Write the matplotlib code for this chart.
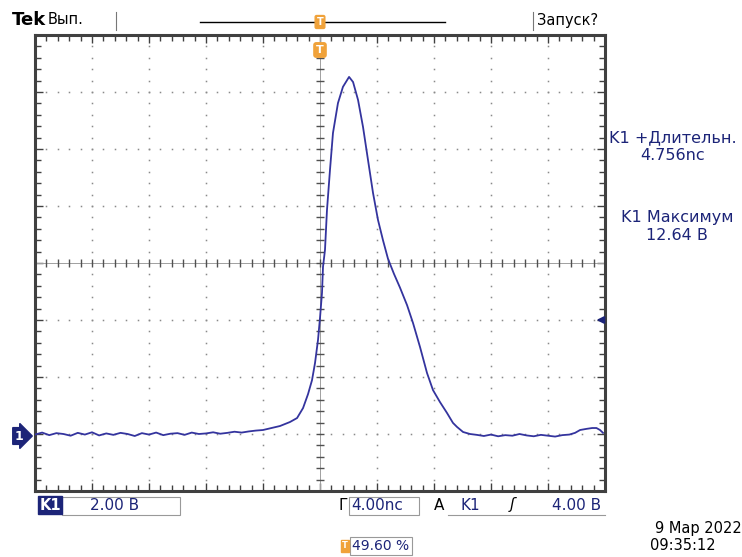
import numpy as np
import matplotlib.pyplot as plt
from matplotlib.patches import Rectangle

plt.rcParams['font.family'] = ['DejaVu Sans']

time_ns = [-20.0, -19.5, -19.0, -18.5, -18.0, -17.5, -17.0, -16.5, -16.0, -15.5,
           -15.0, -14.5, -14.0, -13.5, -13.0, -12.5, -12.0, -11.5, -11.0, -10.5,
           -10.0, -9.5, -9.0, -8.5, -8.0, -7.5, -7.0, -6.5, -6.0, -5.5,
           -5.0, -4.5, -4.0, -2.81, -2.11, -1.61, -1.19, -0.84, -0.56, -0.35,
           -0.14, 0.0, 0.14, 0.21, 0.35, 0.49, 0.70, 0.91, 1.26, 1.61,
           2.04, 2.32, 2.67, 3.02, 3.37, 3.72, 4.07, 4.42, 4.77, 5.19,
           5.61, 6.11, 6.53, 7.02, 7.51, 7.93, 8.42, 8.91, 9.33, 9.61,
           10.04, 10.53, 11.0, 11.5, 12.0, 12.5, 13.0, 13.5, 14.0, 14.5,
           15.0, 15.5, 16.0, 16.5, 17.0, 17.5, 17.9, 18.25, 18.7, 19.1,
           19.4, 19.65, 19.86]
volts = [-0.02, 0.05, -0.04, 0.03, 0.00, -0.06, 0.04, -0.02, 0.06, -0.05,
         0.02, -0.03, 0.04, 0.00, -0.07, 0.03, -0.02, 0.05, -0.04, 0.01,
         0.03, -0.03, 0.05, 0.00, 0.02, 0.06, 0.01, 0.04, 0.08, 0.05,
         0.09, 0.12, 0.14, 0.28, 0.42, 0.56, 0.91, 1.40, 1.89, 2.49,
         3.30, 4.07, 4.95, 5.86, 6.46, 7.86, 9.26, 10.56, 11.61, 12.18,
         12.53, 12.35, 11.72, 10.77, 9.61, 8.46, 7.51, 6.80, 6.15, 5.62,
         5.14, 4.52, 3.89, 3.05, 2.14, 1.54, 1.12, 0.74, 0.39, 0.25,
         0.07, 0.00, -0.03, -0.07, -0.02, -0.08, -0.04, -0.06, 0.00, -0.05,
         -0.08, -0.03, -0.06, -0.09, -0.04, -0.02, 0.04, 0.14, 0.18, 0.21,
         0.21, 0.14, 0.04]

volts_per_div = 2.0
ns_per_div = 4.0
ground_div = -3        # положение нуля канала от центра экрана, делений
trig_level = 4.00
trig_pos = 49.60
meas_width = '4.756nс'
meas_max = '12.64 В'

W, H = 742, 557
navy = '#1c2478'
trace_col = '#34349e'
orange = '#f0a23a'


def px(x, y):
    return x / W, 1 - y / H


fig = plt.figure(figsize=(W / 100, H / 100), dpi=100)
fig.patch.set_facecolor('white')
ax = fig.add_axes([35 / W, 66 / H, 570 / W, 456 / H])

y0 = -(4 + ground_div) * volts_per_div
y1 = y0 + 8 * volts_per_div
ax.set_xlim(-5 * ns_per_div, 5 * ns_per_div)
ax.set_ylim(y0, y1)
yc = (y0 + y1) / 2

# сетка экрана: точки через 0.2 деления
xdots = np.arange(-20, 20.01, ns_per_div / 5)
ydots = np.arange(y0, y1 + 0.01, volts_per_div / 5)
for gx in np.arange(-16, 17, ns_per_div):
    if abs(gx) > 0.01:
        ax.plot([gx] * len(ydots), ydots, ls='none', marker='s', ms=1.1,
                color='#8a8a8a', mew=0)
for gy in np.arange(y0 + volts_per_div, y1, volts_per_div):
    if abs(gy - yc) > 0.01:
        ax.plot(xdots, [gy] * len(xdots), ls='none', marker='s', ms=1.1,
                color='#8a8a8a', mew=0)

# центральный крест с рисками
ax.axhline(yc, color='#a0a0a0', lw=0.7)
ax.axvline(0, color='#a0a0a0', lw=0.7)
ax.plot(xdots, [yc] * len(xdots), ls='none', marker='|', ms=6, color='#505050', mew=1)
ax.plot([0] * len(ydots), ydots, ls='none', marker='_', ms=6, color='#505050', mew=1)

ax.set_xticks(np.arange(-20, 20.1, ns_per_div))
ax.set_xticks(xdots, minor=True)
ax.set_yticks(np.arange(y0, y1 + 0.1, volts_per_div))
ax.set_yticks(ydots, minor=True)
ax.tick_params(which='both', direction='in', top=True, right=True,
               labelbottom=False, labelleft=False, color='#404040', width=1)
ax.tick_params(which='major', length=6)
ax.tick_params(which='minor', length=4)
for s in ax.spines.values():
    s.set_linewidth(2.2)
    s.set_color('#404040')

ax.plot(time_ns, volts, color=trace_col, lw=1.3, zorder=5)

# верхняя строка
fig.text(*px(12, 20), 'Tek', fontsize=13, fontweight='bold', va='center', ha='left')
fig.text(*px(48, 20), 'Вып.', fontsize=10.5, va='center', ha='left')
fig.add_artist(plt.Line2D([116 / W, 116 / W], [1 - 12 / H, 1 - 30 / H], color='#777', lw=0.8))
fig.add_artist(plt.Line2D([200 / W, 445 / W], [1 - 22 / H, 1 - 22 / H], color='black', lw=1))
fig.add_artist(plt.Line2D([533 / W, 533 / W], [1 - 12 / H, 1 - 30 / H], color='#777', lw=0.8))
fig.text(*px(537, 20), 'Запуск?', fontsize=10.5, va='center', ha='left')
fig.text(*px(320, 22), 'T', fontsize=7, color='white', fontweight='bold', ha='center', va='center',
         bbox=dict(boxstyle='round,pad=0.15', fc=orange, ec=orange))
fig.text(*px(320, 50), 'T', fontsize=8, color='white', fontweight='bold', ha='center', va='center',
         bbox=dict(boxstyle='round,pad=0.2', fc=orange, ec=orange))

# маркеры земли и уровня запуска
fig.text(*px(19, 436), '1', fontsize=9, color='white', fontweight='bold', ha='center', va='center',
         bbox=dict(boxstyle='rarrow,pad=0.15', fc=navy, ec=navy))
ax.annotate('', xy=(19.2, trig_level), xytext=(20.0, trig_level),
            arrowprops=dict(arrowstyle='-|>', color=navy, lw=1.5, mutation_scale=10),
            annotation_clip=False)

# измерения справа
fig.text(*px(673, 138), 'K1 +Длительн.', fontsize=11.5, color=navy, ha='center', va='center')
fig.text(*px(673, 156), meas_width, fontsize=11.5, color=navy, ha='center', va='center')
fig.text(*px(677, 218), 'K1 Максимум', fontsize=11.5, color=navy, ha='center', va='center')
fig.text(*px(677, 236), meas_max, fontsize=11.5, color=navy, ha='center', va='center')

# нижняя строка
fig.text(*px(50, 505), 'K1', fontsize=10.5, color='white', fontweight='bold', ha='center', va='center',
         bbox=dict(boxstyle='square,pad=0.1', fc=navy, ec=navy))
fig.add_artist(Rectangle((62 / W, 1 - 515 / H), 118 / W, 18 / H, fill=False, ec='#999', lw=0.8))
fig.text(*px(90, 505), f'{volts_per_div:.2f} В', fontsize=11, color=navy, ha='left', va='center')
fig.text(*px(339, 505), 'Г', fontsize=11, color='black', ha='left', va='center')
fig.add_artist(Rectangle((349 / W, 1 - 515 / H), 70 / W, 18 / H, fill=False, ec='#999', lw=0.8))
fig.text(*px(351, 505), f'{ns_per_div:.2f}nс', fontsize=11, color=navy, ha='left', va='center')
fig.text(*px(434, 505), 'A', fontsize=11, color='black', ha='left', va='center')
fig.add_artist(plt.Line2D([448 / W, 605 / W], [1 - 515 / H, 1 - 515 / H], color='#999', lw=0.8))
fig.text(*px(460, 505), 'K1', fontsize=11, color=navy, ha='left', va='center')
fig.text(*px(512, 505), 'ʃ', fontsize=11, color='black', ha='center', va='center', fontstyle='italic')
fig.text(*px(601, 505), f'{trig_level:.2f} В', fontsize=11, color=navy, ha='right', va='center')

fig.text(*px(345, 546), 'T', fontsize=6, color='white', fontweight='bold', ha='center', va='center',
         bbox=dict(boxstyle='square,pad=0.15', fc=orange, ec=orange))
fig.add_artist(Rectangle((350 / W, 1 - 555 / H), 62 / W, 18 / H, fill=False, ec='#999', lw=0.8))
fig.text(*px(352, 546), f'{trig_pos:.2f} %', fontsize=10, color=navy, ha='left', va='center')
fig.text(*px(742, 528), '9 Мар 2022', fontsize=10.5, color='black', ha='right', va='center')
fig.text(*px(650, 546), '09:35:12', fontsize=10.5, color='black', ha='left', va='center')

fig.savefig('out.png', dpi=100)
